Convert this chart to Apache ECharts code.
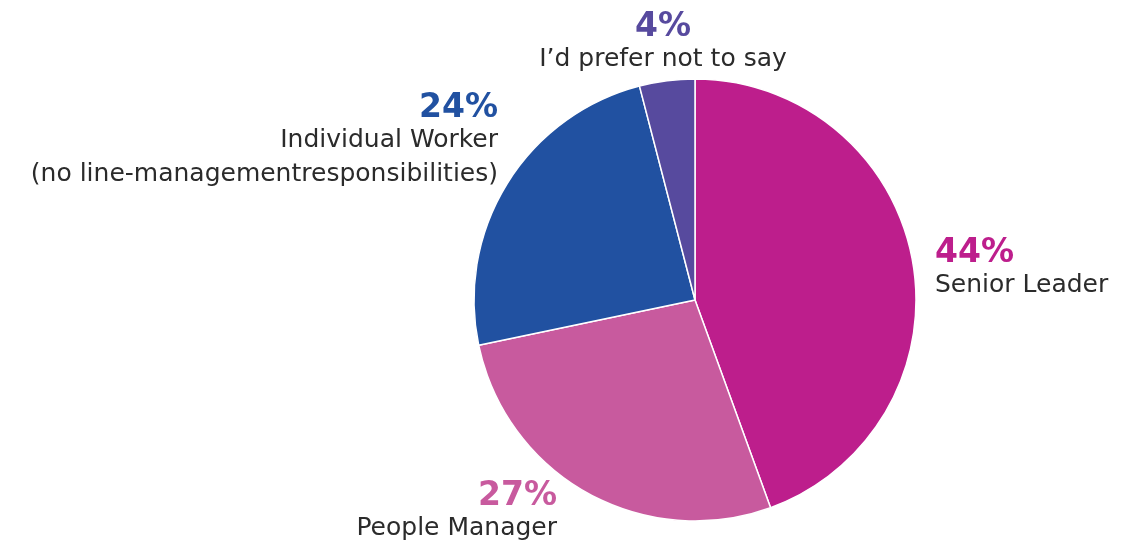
<!DOCTYPE html>
<html>
<head>
<meta charset="utf-8">
<script src="https://cdn.jsdelivr.net/npm/echarts@6/dist/echarts.min.js"></script>
<style>
  html, body { margin: 0; padding: 0; background: #fff; }
  #main { width: 1129px; height: 540px; }
</style>
</head>
<body>
<div id="main"></div>
<script>
var roles = ['Senior Leader', 'People Manager', 'Individual Worker\n(no line-managementresponsibilities)', 'I\u2019d prefer not to say'];
var shares = [44, 27, 24, 4];
var colors = ['#BD1E8C', '#C85A9E', '#2151A1', '#574A9E'];

// where each label block sits (x, top y, alignment)
var labelSpots = [
    { x: 935, y: 238, align: 'left' },
    { x: 557, y: 481, align: 'right' },
    { x: 498, y: 93, align: 'right' },
    { x: 663, y: 12, align: 'center' }
];

var myChart = echarts.init(document.getElementById('main'));

var pieData = roles.map(function (name, i) {
    return {
        name: name,
        value: shares[i],
        itemStyle: { color: colors[i] },
        label: {
            rich: {
                p: { color: colors[i] }
            }
        }
    };
});

var option = {
    animation: false,
    series: [
        {
            type: 'pie',
            center: [695, 300],
            radius: 221,
            startAngle: 90,
            clockwise: true,
            itemStyle: {
                borderColor: '#fff',
                borderWidth: 1.5
            },
            label: {
                show: true,
                position: 'outside',
                overflow: 'none',
                edgeDistance: 0,
                bleedMargin: 0,
                formatter: '{p|{c}%}\n{n|{b}}',
                rich: {
                    p: {
                        fontFamily: 'DejaVu Sans',
                        fontWeight: 'bold',
                        fontSize: 33,
                        lineHeight: 30
                    },
                    n: {
                        fontFamily: 'DejaVu Sans',
                        fontSize: 25,
                        color: '#2b2b2b',
                        lineHeight: 34
                    }
                }
            },
            labelLine: { show: false },
            labelLayout: function (params) {
                var s = labelSpots[params.dataIndex];
                return {
                    x: s.x,
                    y: s.y,
                    align: s.align,
                    verticalAlign: 'top'
                };
            },
            emphasis: { disabled: true },
            data: pieData
        }
    ]
};
myChart.setOption(option);
</script>
</body>
</html>
